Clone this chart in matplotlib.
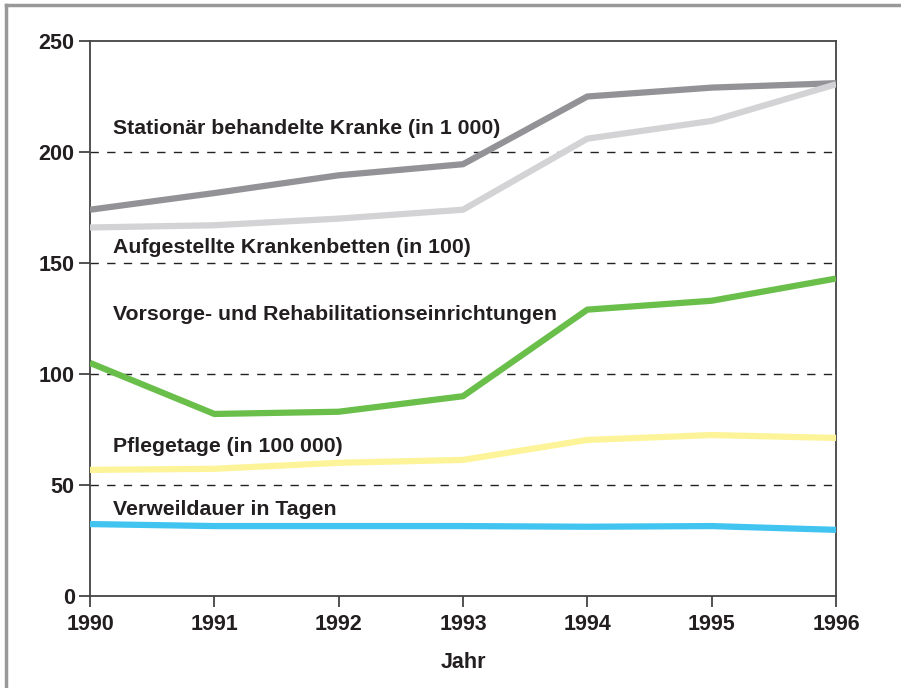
import numpy as np
import matplotlib.pyplot as plt
from matplotlib.lines import Line2D

plt.rcParams['font.family'] = ['Liberation Sans', 'DejaVu Sans']

years = [1990, 1991, 1992, 1993, 1994, 1995, 1996]
stationaer = [174, 181.5, 189.5, 194.5, 225, 229, 231]
betten = [166, 167, 170, 174, 206, 214, 230.5]
vorsorge = [105, 82, 83, 90, 129, 133, 143]
pflegetage = [56.8, 57.3, 60, 61.3, 70.3, 72.5, 71.2]
verweildauer = [32.4, 31.5, 31.5, 31.5, 31.2, 31.5, 29.8]

series = [
    (stationaer, '#939397', 'Stationär behandelte Kranke (in 1 000)', 210.5),
    (betten, '#d3d3d5', 'Aufgestellte Krankenbetten (in 100)', 157),
    (vorsorge, '#6abf4b', 'Vorsorge- und Rehabilitationseinrichtungen', 127),
    (pflegetage, '#fdf49a', 'Pflegetage (in 100 000)', 67.5),
    (verweildauer, '#41c4f0', 'Verweildauer in Tagen', 38.8),
]

fig = plt.figure(figsize=(9.01, 6.88), dpi=100)
ax = fig.add_axes([90 / 901, 1 - 596 / 688, 746 / 901, 555 / 688])

for y in [50, 100, 150, 200]:
    ax.axhline(y, color='#222222', lw=1, dashes=(6, 6), zorder=1)

for vals, col, label, ty in series:
    ax.plot(years, vals, color=col, lw=4.5, solid_capstyle='butt', zorder=3)
    ax.text(1990.185, ty, label, fontsize=15.3, fontweight='bold',
            color='#231f20', va='center', ha='left')

ax.set_xlim(1990, 1996)
ax.set_ylim(0, 250)
ax.set_xticks(years)
ax.set_yticks([0, 50, 100, 150, 200, 250])
ax.tick_params(direction='out', length=8, width=1.3, color='#444444',
               labelsize=15.5, labelcolor='#231f20')
ax.tick_params(axis='x', pad=5)
ax.tick_params(axis='y', pad=3)
for lab in ax.get_xticklabels() + ax.get_yticklabels():
    lab.set_fontweight('bold')
for s in ax.spines.values():
    s.set_color('#444444')
    s.set_linewidth(1.3)
ax.set_xlabel('Jahr', fontsize=15.5, fontweight='bold', color='#231f20', labelpad=12)

# outer frame (top and left edges visible)
fig.add_artist(Line2D([6 / 901, 1], [1 - 5 / 688, 1 - 5 / 688], color='#999999', lw=2.5,
                      transform=fig.transFigure))
fig.add_artist(Line2D([6 / 901, 6 / 901], [0, 1 - 5 / 688], color='#999999', lw=2.5,
                      transform=fig.transFigure))

fig.savefig('out.png', dpi=100)
